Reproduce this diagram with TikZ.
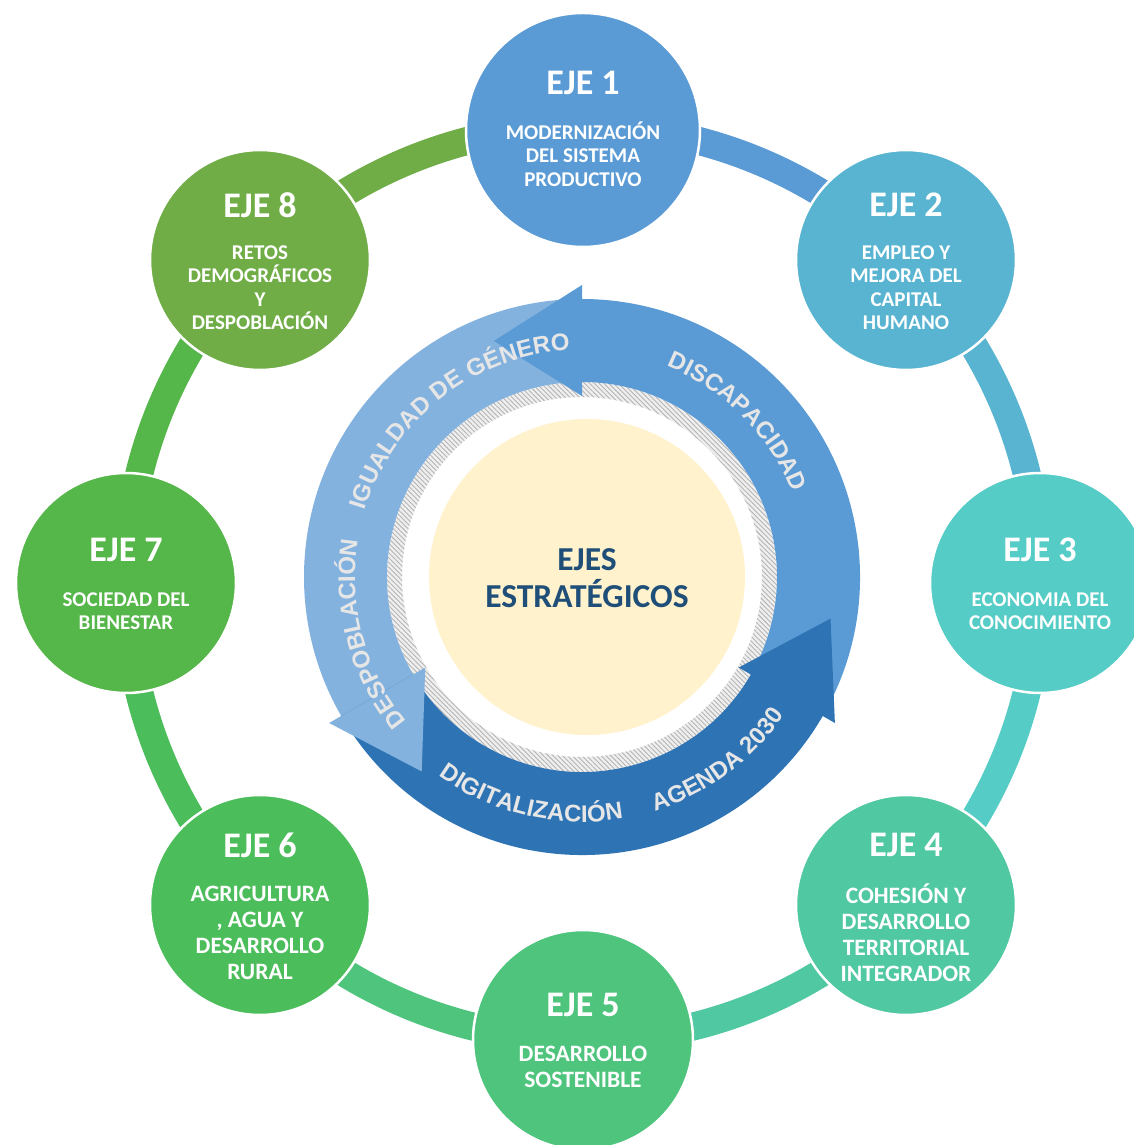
\documentclass[tikz,border=0pt]{standalone}
\usepackage{fontspec}
\setmainfont{Carlito}
\newfontfamily\arialfont{Liberation Sans}
\usetikzlibrary{decorations.text,patterns.meta}
\definecolor{c1}{HTML}{5B9BD5}
\definecolor{c2}{HTML}{58B4D0}
\definecolor{c3}{HTML}{55CCC6}
\definecolor{c4}{HTML}{50C8A1}
\definecolor{c5}{HTML}{4EC47D}
\definecolor{c6}{HTML}{4BBD5B}
\definecolor{c7}{HTML}{55B649}
\definecolor{c8}{HTML}{70AD47}
\definecolor{cmed}{HTML}{5B9BD5}
\definecolor{clight}{HTML}{84B2DF}
\definecolor{cdark}{HTML}{2E74B5}
\definecolor{cream}{HTML}{FFF2CC}
\definecolor{navy}{HTML}{1F4E79}
\definecolor{atxt}{HTML}{E6E6E6}
\definecolor{hatchbg}{HTML}{EFEFEF}
\definecolor{hatchln}{HTML}{B4B4B4}
\begin{document}
\begin{tikzpicture}[x=1pt,y=1pt,
  ringseg/.style={line width=28pt},
  eje/.style={circle, draw=white, line width=2.5pt, inner sep=0pt, minimum size=220pt},
  ejetitle/.style={font=\bfseries\fontsize{36}{36}\selectfont, text=white, inner sep=0pt},
  ejebody/.style={font=\bfseries\fontsize{21}{23.5}\selectfont, text=white, align=center, inner sep=0pt},
  ejebodyL/.style={font=\bfseries\fontsize{23.5}{26}\selectfont, text=white, align=center, inner sep=0pt},
  arrowtext/.style={decorate, decoration={text along path, text align=center,
     text={|\arialfont\bfseries\fontsize{24}{24}\selectfont\color{atxt}|#1}}}
]
\useasboundingbox (-582,-568) rectangle (551,577);
\fill[white] (-582,-568) rectangle (551,577);

% ---------- outer ring of connectors ----------
\coordinate (R) at (1,-6);
\foreach \a/\c in {90/c1,45/c2,0/c3,-45/c4,-90/c5,-135/c6,-180/c7,-225/c8}{
  \draw[ringseg,\c] ([shift={(1,-6)}]\a:457) arc[start angle=\a, delta angle=-45, radius=457pt];
}

% ---------- outer circles ----------
\node[eje, fill=c1, minimum size=234pt] (e1) at (1,447) {};
\node[eje, fill=c2] (e2) at (324,317) {};
\node[eje, fill=c3] (e3) at (458,-6) {};
\node[eje, fill=c4] (e4) at (324,-328) {};
\node[eje, fill=c5] (e5) at (1,-463) {};
\node[eje, fill=c6] (e6) at (-322,-328) {};
\node[eje, fill=c7] (e7) at (-456,-6) {};
\node[eje, fill=c8] (e8) at (-322,317) {};

\node[ejetitle] (t1) at (1,494) {EJE 1};
\node[ejebody]  (b1) at (1,423) {MODERNIZACIÓN\\DEL SISTEMA\\PRODUCTIVO};
\node[ejetitle] (t2) at (324,372) {EJE 2};
\node[ejebody]  (b2) at (324,289.5) {EMPLEO Y\\MEJORA DEL\\CAPITAL\\HUMANO};
\node[ejetitle] (t3) at (458,27) {EJE 3};
\node[ejebody]  (b3) at (458,-34) {ECONOMIA DEL\\CONOCIMIENTO};
\node[ejetitle] (t4) at (324,-268) {EJE 4};
\node[ejebodyL] (b4) at (324,-356) {COHESIÓN Y\\DESARROLLO\\TERRITORIAL\\INTEGRADOR};
\node[ejetitle] (t5) at (1,-428) {EJE 5};
\node[ejebodyL] (b5) at (1,-490) {DESARROLLO\\SOSTENIBLE};
\node[ejetitle] (t6) at (-322,-268) {EJE 6};
\node[ejebodyL] (b6) at (-322,-356) {AGRICULTURA\\, AGUA Y\\DESARROLLO\\RURAL};
\node[ejetitle] (t7) at (-456,27) {EJE 7};
\node[ejebody]  (b7) at (-456,-34) {SOCIEDAD DEL\\BIENESTAR};
\node[ejetitle] (t8) at (-322,372) {EJE 8};
\node[ejebody]  (b8) at (-322,289.5) {RETOS\\DEMOGRÁFICOS\\Y\\DESPOBLACIÓN};

% ---------- hatched ring ----------
\fill[hatchbg, even odd rule] (0,0) circle[radius=195pt] (0,0) circle[radius=180pt];
\fill[pattern={Lines[angle=-45, distance=3.4pt, line width=0.9pt]}, pattern color=hatchln, even odd rule]
  (0,0) circle[radius=195pt] (0,0) circle[radius=180pt];

% ---------- circular arrows: bodies ----------
\foreach \a/\c in {-30/cmed, 90/clight, 210/cdark}{
  \fill[\c] (\a:195) -- (\a:278) arc[start angle=\a, delta angle=121, radius=278pt]
     -- ({\a+121}:195) arc[start angle=\a+121, delta angle=-121, radius=195pt] -- cycle;
}
% ---------- circular arrows: heads ----------
\foreach \b/\c in {90/cmed, 210/clight, 330/cdark}{
  \fill[\c] (\b:181) -- ({\b+20.5}:252) -- (\b:292) -- cycle;
}

% ---------- arrow labels ----------
\path[arrowtext={DISCAPACIDAD}] (90:227) arc[start angle=90, end angle=0, radius=227pt];
\path[arrowtext={IGUALDAD DE GÉNERO}] (192:227) arc[start angle=192, end angle=64, radius=227pt];
\path[arrowtext={DESPOBLACIÓN}] (242:227) arc[start angle=242, end angle=148, radius=227pt];
\path[arrowtext={DIGITALIZACIÓN}] (210:245) arc[start angle=210, end angle=304, radius=245pt];
\path[arrowtext={AGENDA 2030}] (264:245) arc[start angle=264, end angle=349, radius=245pt];

% ---------- centre ----------
\fill[cream] (5,0) circle[radius=158pt];
\node[font=\bfseries\fontsize{33.5}{37}\selectfont, text=navy, align=center, inner sep=0pt] (ctr) at (5,-1.5) {EJES\\ESTRATÉGICOS};
\end{tikzpicture}
\end{document}
